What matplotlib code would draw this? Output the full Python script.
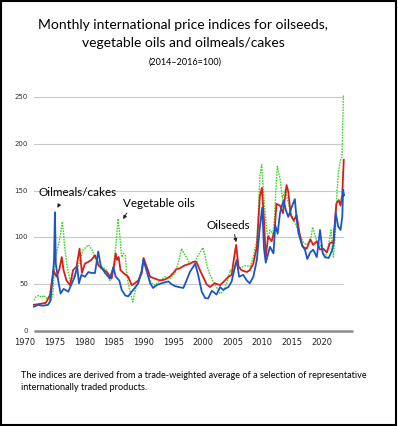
import matplotlib
matplotlib.use("Agg")
import matplotlib.pyplot as plt
from matplotlib.patches import Rectangle

plt.rcParams['font.family'] = ['Lato', 'DejaVu Sans']

# data (x in chart years, y = index 2014-2016=100)
veg_years = [1971.5, 1971.9, 1972.3, 1972.8, 1973.2, 1973.6, 1974.0, 1974.3, 1974.7, 1975.1,
             1975.6, 1976.0, 1976.3, 1976.7, 1977.1, 1977.6, 1978.2, 1978.7, 1979.3, 1979.8,
             1980.7, 1981.3, 1981.8, 1982.4, 1982.9, 1983.8, 1984.3, 1984.9, 1985.3, 1985.7,
             1986.0, 1986.3, 1986.6, 1986.9, 1987.1, 1987.4, 1987.8, 1988.2, 1988.6, 1989.1,
             1989.7, 1990.0, 1990.4, 1990.8, 1991.4, 1991.9, 1992.8, 1993.6, 1994.5, 1995.3,
             1995.9, 1996.4, 1996.8, 1997.3, 1997.8, 1998.6, 1999.4, 2000.0, 2000.4, 2000.7,
             2001.2, 2001.8, 2002.3, 2002.9, 2003.4, 2004.0, 2004.6, 2005.1, 2005.7, 2006.3,
             2007.1, 2008.0, 2008.5, 2009.1, 2009.35, 2009.6, 2009.9, 2010.2, 2010.5, 2010.7,
             2011.0, 2011.3, 2011.8, 2012.1, 2012.3, 2012.55, 2013.0, 2013.4, 2013.9, 2014.3,
             2014.7, 2015.3, 2015.8, 2016.4, 2016.9, 2017.5, 2018.1, 2018.5, 2019.2, 2020.0,
             2020.6, 2021.2, 2021.6, 2022.0, 2022.3, 2022.6, 2022.85, 2023.2, 2023.45, 2023.7]
veg_vals = [33, 37, 38, 36, 38, 35, 37, 31, 40, 79,
            90, 104, 117, 90, 69, 54, 58, 65, 76, 87,
            92, 87, 78, 74, 69, 65, 54, 69, 90, 120,
            101, 79, 83, 81, 65, 51, 40, 31, 44, 54,
            65, 78, 65, 58, 51, 49, 54, 58, 56, 62,
            74, 88, 83, 78, 72, 74, 83, 89, 79, 69,
            60, 52, 47, 40, 42, 51, 65, 62, 72, 67,
            70, 69, 79, 97, 126, 165, 178, 151, 126, 111,
            97, 108, 104, 122, 151, 176, 163, 142, 151, 140,
            129, 119, 112, 102, 95, 92, 96, 111, 96, 90,
            78, 92, 108, 79, 100, 148, 170, 183, 186, 252]

seed_years = [1971.5, 1972.5, 1973.5, 1974.2, 1974.8, 1975.3, 1975.8, 1976.2, 1976.5, 1977.0,
              1977.6, 1978.1, 1978.7, 1979.2, 1979.6, 1980.1, 1980.7, 1981.2, 1981.8, 1982.4,
              1982.9, 1983.8, 1984.6, 1985.0, 1985.3, 1985.5, 1985.8, 1986.1, 1986.6, 1987.4,
              1988.0, 1988.5, 1989.1, 1989.7, 1990.0, 1990.5, 1991.1, 1991.9, 1992.8, 1993.6,
              1994.4, 1995.0, 1995.5, 1996.1, 1996.9, 1997.8, 1998.4, 1998.9, 1999.5, 2000.1,
              2000.6, 2001.2, 2002.0, 2002.9, 2003.7, 2004.3, 2004.85, 2005.2, 2005.6, 2006.0,
              2006.5, 2007.4, 2007.9, 2008.5, 2009.1, 2009.6, 2009.95, 2010.3, 2010.6, 2011.0,
              2011.6, 2012.1, 2012.4, 2013.0, 2013.5, 2013.8, 2014.1, 2014.4, 2014.8, 2015.3,
              2015.8, 2016.3, 2016.8, 2017.5, 2018.1, 2018.6, 2019.2, 2019.75, 2020.3, 2020.9,
              2021.4, 2022.0, 2022.5, 2022.9, 2023.2, 2023.5, 2023.75]
seed_vals = [28, 29, 30, 38, 65, 58, 66, 79, 65, 54,
             49, 65, 69, 88, 62, 72, 74, 76, 81, 70,
             67, 63, 56, 69, 83, 76, 79, 65, 62, 58,
             49, 51, 54, 62, 78, 69, 58, 56, 54, 55,
             58, 62, 66, 67, 70, 72, 74, 74, 65, 57,
             50, 47, 51, 49, 54, 58, 60, 76, 92, 69,
             65, 63, 65, 72, 90, 144, 153, 119, 79, 101,
             96, 108, 136, 134, 126, 140, 156, 149, 124, 118,
             124, 104, 90, 88, 98, 92, 96, 87, 88, 84,
             94, 95, 136, 140, 134, 146, 183]

meal_years = [1971.5, 1972.2, 1973.0, 1973.9, 1974.3, 1974.7, 1974.9, 1975.05, 1975.2, 1975.6,
              1976.0, 1976.5, 1976.8, 1977.3, 1977.9, 1978.4, 1978.8, 1979.1, 1979.5, 1980.1,
              1980.7, 1981.2, 1981.8, 1982.35, 1982.8, 1983.5, 1984.3, 1984.9, 1985.3, 1985.9,
              1986.3, 1986.9, 1987.4, 1988.0, 1988.5, 1989.1, 1989.7, 1989.95, 1990.5, 1991.1,
              1991.6, 1992.2, 1993.0, 1993.6, 1994.2, 1994.7, 1995.3, 1995.9, 1996.7, 1997.3,
              1997.8, 1998.7, 1999.2, 1999.8, 2000.4, 2000.9, 2001.5, 2002.3, 2002.9, 2003.4,
              2004.3, 2004.85, 2005.4, 2005.7, 2006.1, 2006.8, 2007.4, 2007.9, 2008.5, 2009.1,
              2009.6, 2010.0, 2010.3, 2010.6, 2011.3, 2011.9, 2012.2, 2012.6, 2013.0, 2013.6,
              2014.0, 2014.4, 2015.0, 2015.5, 2015.8, 2016.1, 2016.7, 2017.2, 2017.6, 2018.1,
              2018.6, 2019.2, 2019.75, 2020.2, 2020.6, 2021.2, 2021.7, 2022.0, 2022.4, 2022.8,
              2023.2, 2023.5, 2023.65, 2023.8]
meal_vals = [26, 28, 27, 28, 33, 60, 76, 127, 72, 54,
             40, 45, 44, 42, 51, 58, 69, 51, 60, 58,
             63, 62, 62, 85, 69, 62, 56, 68, 58, 54,
             44, 38, 37, 42, 46, 51, 65, 76, 65, 51,
             46, 49, 51, 52, 53, 50, 48, 47, 46, 55,
             63, 72, 60, 42, 35, 35, 43, 39, 47, 44,
             47, 53, 69, 76, 58, 60, 54, 51, 58, 76,
             111, 132, 88, 73, 90, 83, 113, 104, 126, 140,
             129, 122, 133, 141, 120, 105, 92, 87, 77, 84,
             87, 79, 108, 83, 79, 78, 85, 92, 126, 112,
             108, 122, 151, 145]

x_ticks = [1970, 1975, 1980, 1985, 1990, 1995, 2000, 2005, 2010, 2015, 2020]
y_ticks = [0, 50, 100, 150, 200, 250]

green = '#3fd62a'
red = '#d91e18'
blue = '#1b55c6'

fig = plt.figure(figsize=(3.98, 4.26), dpi=100)
ax = fig.add_axes([0.0628, 0.223, 0.824, 0.571])
ax.set_xlim(1970, 2025.3)
ax.set_ylim(0, 260)
ax.axis('off')

# grid lines and base line
for v in y_ticks[1:]:
    ax.plot([1971.5, 2023.7], [v, v], color='#c9c9c9', lw=0.8, zorder=1)
ax.plot([1971.5, 2025.3], [0, 0], color='#8c8c8c', lw=1.8, zorder=2, clip_on=False,
        solid_capstyle='butt')

for v in y_ticks:
    ax.text(1970.5, v, str(v), ha='right', va='center', fontsize=5, color='#333333',
            family='DejaVu Sans')
for yr in x_ticks:
    ax.text(yr, -12, str(yr), ha='center', va='center', fontsize=6, color='#222222',
            family='DejaVu Sans')

ax.plot(veg_years, veg_vals, color=green, lw=1.0, ls=(0, (1.2, 0.8)), zorder=3)
ax.plot(seed_years, seed_vals, color=red, lw=1.3, zorder=4)
ax.plot(meal_years, meal_vals, color=blue, lw=1.3, zorder=5)

# callouts
arrow = dict(arrowstyle='-|>', color='#222222', lw=0.7, mutation_scale=5)
ax.annotate('', xy=(1975.25, 129), xytext=(1976.0, 138), arrowprops=arrow)
ax.text(1978.85, 148, 'Oilmeals/cakes', ha='center', va='center', fontsize=8.4)
ax.annotate('', xy=(1986.3, 117), xytext=(1987.4, 128.5), arrowprops=arrow)
ax.text(1992.6, 136, 'Vegetable oils', ha='center', va='center', fontsize=8.4)
ax.annotate('', xy=(2005.7, 92), xytext=(2005.25, 106), arrowprops=arrow)
ax.text(2004.3, 113, 'Oilseeds', ha='center', va='center', fontsize=8.4)

# titles and note
fig.text(0.46, 1 - 25 / 426, 'Monthly international price indices for oilseeds,',
         ha='center', va='center', fontsize=10)
fig.text(0.46, 1 - 43 / 426, 'vegetable oils and oilmeals/cakes',
         ha='center', va='center', fontsize=10)
fig.text(0.465, 1 - 62 / 426, '(2014\u20132016=100)', ha='center', va='center', fontsize=6.5)
fig.text(21 / 398, 1 - 376 / 426,
         'The indices are derived from a trade-weighted average of a selection of representative',
         ha='left', va='center', fontsize=6.6)
fig.text(21 / 398, 1 - 387.5 / 426, 'internationally traded products.',
         ha='left', va='center', fontsize=6.6)

fig.patches.append(Rectangle((0.002, 0.002), 0.992, 0.995, transform=fig.transFigure,
                             fill=False, edgecolor='black', lw=1.5))

fig.savefig('out.png', dpi=100)
